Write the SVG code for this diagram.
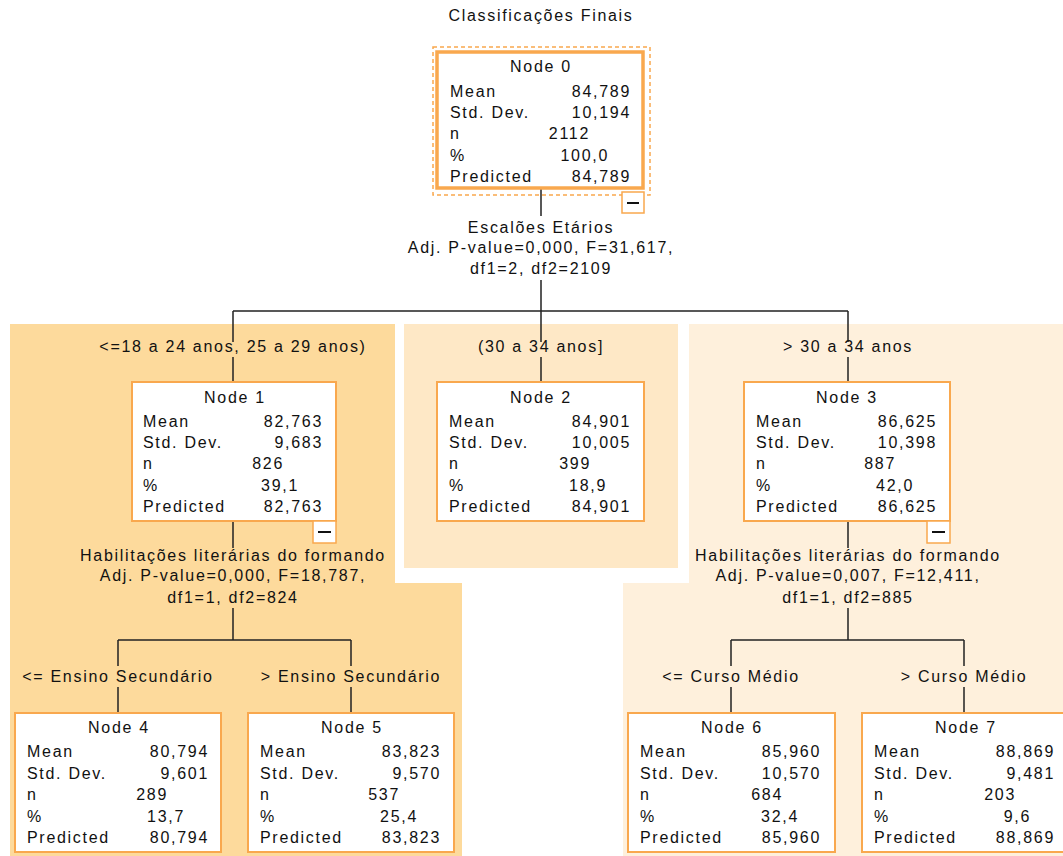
<svg xmlns="http://www.w3.org/2000/svg" width="1063" height="856" viewBox="0 0 1063 856">
  <style>
    text { font-family: "Liberation Sans", Arial, sans-serif; font-size: 16px; letter-spacing: 1.7px; fill: #111; }
    .c { text-anchor: middle; }
    .r { text-anchor: end; }
    .box { fill: #fff; stroke: #f9a84e; stroke-width: 2; }
    .box0 { fill: #fff; stroke: #f9a84e; stroke-width: 3.5; }
    .sel { fill: none; stroke: #f9a84e; stroke-width: 1.5; stroke-dasharray: 4 3; }
    .tog { fill: #fff; stroke: #f9a84e; stroke-width: 1.5; }
    .minus { stroke: #111; stroke-width: 2; }
    .ln { fill: none; stroke: #222; stroke-width: 1.5; }
  </style>

  <!-- shaded branch areas -->
  <g id="bands">
    <path d="M10 324 H395 V583 H462 V856 H10 Z" fill="#fdda9c"/>
    <rect x="404" y="324" width="274" height="244" fill="#fee8c6"/>
    <path d="M689 324 H1063 V856 H623 V583 H689 Z" fill="#fef0dc"/>
  </g>

  <text class="c" x="541" y="21">Classificações Finais</text>

  <!-- connectors and split labels -->
  <g id="connectors">
    <path class="ln" d="M541 188 V216 M541 280 V311 M233 311 H848 M233 311 V342 M233 357 V382 M541 311 V342 M541 357 V382 M848 311 V342 M848 357 V382"/>
    <path class="ln" d="M233 521 V548 M233 608 V640 M118 640 H351 M118 640 V666 M118 687 V713 M351 640 V666 M351 687 V713"/>
    <path class="ln" d="M848 521 V548 M848 608 V640 M731 640 H964 M731 640 V666 M731 687 V713 M964 640 V666 M964 687 V713"/>

    <text class="c" x="541" y="233">Escalões Etários</text>
    <text class="c" x="541" y="253">Adj. P-value=0,000, F=31,617,</text>
    <text class="c" x="541" y="274">df1=2, df2=2109</text>

    <text class="c" x="233" y="352">&lt;=18 a 24 anos, 25 a 29 anos)</text>
    <text class="c" x="541" y="352">(30 a 34 anos]</text>
    <text class="c" x="848" y="352">&gt; 30 a 34 anos</text>

    <text class="c" x="233" y="561">Habilitações literárias do formando</text>
    <text class="c" x="233" y="581">Adj. P-value=0,000, F=18,787,</text>
    <text class="c" x="233" y="603">df1=1, df2=824</text>

    <text class="c" x="848" y="561">Habilitações literárias do formando</text>
    <text class="c" x="848" y="581">Adj. P-value=0,007, F=12,411,</text>
    <text class="c" x="848" y="603">df1=1, df2=885</text>

    <text class="c" x="118" y="682">&lt;= Ensino Secundário</text>
    <text class="c" x="351" y="682">&gt; Ensino Secundário</text>
    <text class="c" x="731" y="682">&lt;= Curso Médio</text>
    <text class="c" x="964" y="682">&gt; Curso Médio</text>
  </g>

  <!-- Node 0 (selected) -->
  <g id="node0">
    <rect class="sel" x="433" y="47" width="217" height="148"/>
    <rect class="box0" x="437" y="52" width="206" height="136"/>
    <rect class="tog" x="622" y="192" width="22" height="21"/>
    <line class="minus" x1="627" y1="203" x2="639" y2="203"/>
    <text class="c" x="541" y="72">Node 0</text>
    <text x="450" y="97">Mean</text><text class="r" x="631" y="97">84,789</text>
    <text x="450" y="118">Std. Dev.</text><text class="r" x="631" y="118">10,194</text>
    <text x="450" y="139">n</text><text class="r" x="590" y="139">2112</text>
    <text x="450" y="161">%</text><text class="r" x="609" y="161">100,0</text>
    <text x="450" y="182">Predicted</text><text class="r" x="631" y="182">84,789</text>
  </g>

  <!-- Node 1 -->
  <g id="node1">
    <rect class="box" x="132" y="382" width="204" height="139"/>
    <rect class="tog" x="313" y="521" width="23" height="22"/>
    <line class="minus" x1="318" y1="532" x2="331" y2="532"/>
    <text class="c" x="235" y="403">Node 1</text>
    <text x="143" y="427">Mean</text><text class="r" x="323" y="427">82,763</text>
    <text x="143" y="448">Std. Dev.</text><text class="r" x="323" y="448">9,683</text>
    <text x="143" y="469">n</text><text class="r" x="284" y="469">826</text>
    <text x="143" y="491">%</text><text class="r" x="299" y="491">39,1</text>
    <text x="143" y="512">Predicted</text><text class="r" x="323" y="512">82,763</text>
  </g>

  <!-- Node 2 -->
  <g id="node2">
    <rect class="box" x="437" y="382" width="207" height="139"/>
    <text class="c" x="541" y="403">Node 2</text>
    <text x="449" y="427">Mean</text><text class="r" x="631" y="427">84,901</text>
    <text x="449" y="448">Std. Dev.</text><text class="r" x="631" y="448">10,005</text>
    <text x="449" y="469">n</text><text class="r" x="591" y="469">399</text>
    <text x="449" y="491">%</text><text class="r" x="607" y="491">18,9</text>
    <text x="449" y="512">Predicted</text><text class="r" x="631" y="512">84,901</text>
  </g>

  <!-- Node 3 -->
  <g id="node3">
    <rect class="box" x="744" y="382" width="206" height="139"/>
    <rect class="tog" x="927" y="521" width="23" height="22"/>
    <line class="minus" x1="932" y1="532" x2="945" y2="532"/>
    <text class="c" x="847" y="403">Node 3</text>
    <text x="756" y="427">Mean</text><text class="r" x="937" y="427">86,625</text>
    <text x="756" y="448">Std. Dev.</text><text class="r" x="937" y="448">10,398</text>
    <text x="756" y="469">n</text><text class="r" x="896" y="469">887</text>
    <text x="756" y="491">%</text><text class="r" x="914" y="491">42,0</text>
    <text x="756" y="512">Predicted</text><text class="r" x="937" y="512">86,625</text>
  </g>

  <!-- Node 4 -->
  <g id="node4">
    <rect class="box" x="15" y="713" width="206" height="139"/>
    <text class="c" x="119" y="733">Node 4</text>
    <text x="27" y="757">Mean</text><text class="r" x="209" y="757">80,794</text>
    <text x="27" y="779">Std. Dev.</text><text class="r" x="209" y="779">9,601</text>
    <text x="27" y="800">n</text><text class="r" x="168" y="800">289</text>
    <text x="27" y="822">%</text><text class="r" x="185" y="822">13,7</text>
    <text x="27" y="843">Predicted</text><text class="r" x="209" y="843">80,794</text>
  </g>

  <!-- Node 5 -->
  <g id="node5">
    <rect class="box" x="248" y="713" width="206" height="139"/>
    <text class="c" x="352" y="733">Node 5</text>
    <text x="260" y="757">Mean</text><text class="r" x="441" y="757">83,823</text>
    <text x="260" y="779">Std. Dev.</text><text class="r" x="441" y="779">9,570</text>
    <text x="260" y="800">n</text><text class="r" x="400" y="800">537</text>
    <text x="260" y="822">%</text><text class="r" x="418" y="822">25,4</text>
    <text x="260" y="843">Predicted</text><text class="r" x="441" y="843">83,823</text>
  </g>

  <!-- Node 6 -->
  <g id="node6">
    <rect class="box" x="628" y="713" width="207" height="139"/>
    <text class="c" x="732" y="733">Node 6</text>
    <text x="640" y="757">Mean</text><text class="r" x="821" y="757">85,960</text>
    <text x="640" y="779">Std. Dev.</text><text class="r" x="821" y="779">10,570</text>
    <text x="640" y="800">n</text><text class="r" x="783" y="800">684</text>
    <text x="640" y="822">%</text><text class="r" x="799" y="822">32,4</text>
    <text x="640" y="843">Predicted</text><text class="r" x="821" y="843">85,960</text>
  </g>

  <!-- Node 7 -->
  <g id="node7">
    <rect class="box" x="862" y="713" width="207" height="139"/>
    <text class="c" x="966" y="733">Node 7</text>
    <text x="874" y="757">Mean</text><text class="r" x="1055" y="757">88,869</text>
    <text x="874" y="779">Std. Dev.</text><text class="r" x="1055" y="779">9,481</text>
    <text x="874" y="800">n</text><text class="r" x="1016" y="800">203</text>
    <text x="874" y="822">%</text><text class="r" x="1031" y="822">9,6</text>
    <text x="874" y="843">Predicted</text><text class="r" x="1055" y="843">88,869</text>
  </g>
</svg>
